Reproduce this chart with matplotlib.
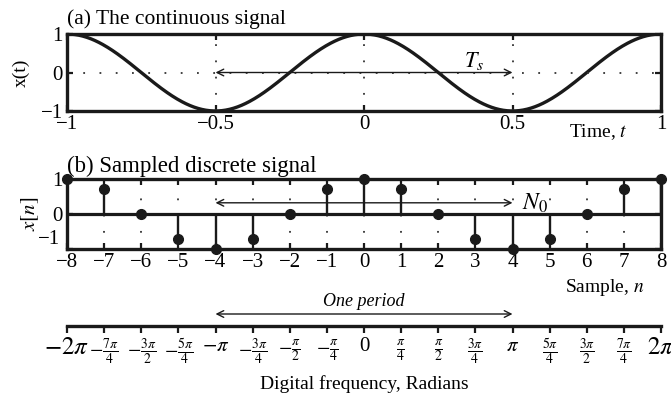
import numpy as np
import matplotlib
matplotlib.use("Agg")
import matplotlib.pyplot as plt

plt.rcParams['font.family'] = ['Liberation Serif', 'DejaVu Serif']
plt.rcParams['mathtext.fontset'] = 'stix'

# ---- data ----
signal_freq = 1.0          # cycles per unit time of the continuous cosine
signal_amp = 1.0
t_ticks = [-1, -0.5, 0, 0.5, 1]
t_ticklabels = ['−1', '−0.5', '0', '0.5', '1']
n_samples = list(range(-8, 9))
xn_values = [1, 0.707, 0, -0.707, -1, -0.707, 0, 0.707, 1,
             0.707, 0, -0.707, -1, -0.707, 0, 0.707, 1]
freq_ticks_quarters = list(range(-8, 9))
freq_ticklabels = [r'$-2\pi$', r'$-\frac{7\pi}{4}$', r'$-\frac{3\pi}{2}$', r'$-\frac{5\pi}{4}$',
                   r'$-\pi$', r'$-\frac{3\pi}{4}$', r'$-\frac{\pi}{2}$', r'$-\frac{\pi}{4}$',
                   '0', r'$\frac{\pi}{4}$', r'$\frac{\pi}{2}$', r'$\frac{3\pi}{4}$',
                   r'$\pi$', r'$\frac{5\pi}{4}$', r'$\frac{3\pi}{2}$', r'$\frac{7\pi}{4}$', r'$2\pi$']

W, H = 671, 394
fig = plt.figure(figsize=(W / 100, H / 100), dpi=100)

def px_axes(l, t, r, b):
    return fig.add_axes([l / W, 1 - b / H, (r - l) / W, (b - t) / H])

FS = 15
LW_FRAME = 2.4
dot_style = (0, (1, 8))
INK = '#1a1a1a'

# ---- (a) continuous signal ----
ax1 = px_axes(67, 34, 661, 111)
tt = np.linspace(-1, 1, 600)
ax1.plot(tt, signal_amp * np.cos(2 * np.pi * signal_freq * tt), color=INK, lw=2.4)
ax1.set_xlim(-1, 1)
ax1.set_ylim(-1, 1)
for xv in [-0.5, 0, 0.5]:
    ax1.axvline(xv, color='#333333', lw=1.3, ls=dot_style)
ax1.axhline(0, color='#333333', lw=1.3, ls=dot_style)
ax1.set_xticks(t_ticks)
ax1.set_xticklabels(t_ticklabels, fontsize=FS)
ax1.set_yticks([-1, 0, 1])
ax1.set_yticklabels(['−1', '0', '1'], fontsize=FS)
ax1.tick_params(direction='in', top=True, right=True, length=4, width=1.6, pad=3,
                color=INK)
for s in ax1.spines.values():
    s.set_linewidth(LW_FRAME)
    s.set_color(INK)
ax1.annotate('', xy=(-0.5, 0), xytext=(0.5, 0),
             arrowprops=dict(arrowstyle='<->', lw=1.0, color=INK,
                             shrinkA=0, shrinkB=0, mutation_scale=12))
ax1.text(0.37, 0.3, r'$T_s$', fontsize=FS + 1, ha='center', va='center')
ax1.set_ylabel('x(t)', fontsize=FS - 1, labelpad=8)
ax1.text(0, 1.06, '(a) The continuous signal', transform=ax1.transAxes,
         fontsize=FS + 0.5, ha='left', va='bottom')
fig.text(598 / W, 1 - 132 / H, 'Time, $t$', fontsize=FS - 1, ha='center', va='center')

# ---- (b) sampled discrete signal ----
ax2 = px_axes(67, 179, 661, 249)
ax2.set_xlim(-8, 8)
ax2.set_ylim(-1, 1)
for nv in n_samples:
    ax2.axvline(nv, color='#333333', lw=1.3, ls=dot_style, zorder=1)
ax2.axhline(0, color=INK, lw=2.3, zorder=2)
ax2.vlines(n_samples, 0, xn_values, color=INK, lw=1.7, zorder=3)
ax2.plot(n_samples, xn_values, 'o', color=INK, ms=7, zorder=4, clip_on=False)
ax2.set_xticks(n_samples)
ax2.set_xticklabels([str(v).replace('-', '−') for v in n_samples], fontsize=FS)
ax2.set_yticks([-1, 0, 1])
ax2.set_yticklabels(['', '0', '1'], fontsize=FS)
# the "-1" label sits a little above its tick in the reference
ax2.text(-0.011, -0.74, '−1', transform=ax2.get_yaxis_transform(),
         fontsize=FS, ha='right', va='center')
ax2.tick_params(direction='in', top=True, right=True, length=4, width=1.6, pad=3,
                color=INK)
for s in ax2.spines.values():
    s.set_linewidth(LW_FRAME)
    s.set_color(INK)
ax2.annotate('', xy=(-4, 0.32), xytext=(4, 0.32),
             arrowprops=dict(arrowstyle='<->', lw=1.0, color=INK,
                             shrinkA=0, shrinkB=0, mutation_scale=12))
ax2.text(4.25, 0.3, r'$N_0$', fontsize=FS + 2, ha='left', va='center')
ax2.set_ylabel(r'$x[n]$', fontsize=FS, labelpad=8)
ax2.text(0, 1.03, '(b) Sampled discrete signal', transform=ax2.transAxes,
         fontsize=FS + 1.5, ha='left', va='bottom')
fig.text(605 / W, 1 - 288 / H, 'Sample, $n$', fontsize=FS - 1, ha='center', va='center')

# ---- digital frequency axis ----
ax3 = px_axes(67, 286, 661, 326)
ax3.set_xlim(-2 * np.pi, 2 * np.pi)
ax3.set_ylim(0, 1)
for side in ['top', 'left', 'right']:
    ax3.spines[side].set_visible(False)
ax3.spines['bottom'].set_linewidth(LW_FRAME)
ax3.spines['bottom'].set_color(INK)
ax3.set_yticks([])
ax3.set_xticks([q * np.pi / 4 for q in freq_ticks_quarters])
ax3.set_xticklabels(freq_ticklabels)
for lab, q in zip(ax3.get_xticklabels(), freq_ticks_quarters):
    lab.set_fontsize(18 if abs(q) == 8 else (15 if abs(q) == 4 or q == 0 else 14))
ax3.tick_params(direction='out', length=5, width=1.6, pad=3, color=INK)
ax3.annotate('', xy=(-np.pi, 0.3), xytext=(np.pi, 0.3),
             arrowprops=dict(arrowstyle='<->', lw=1.0, color=INK,
                             shrinkA=0, shrinkB=0, mutation_scale=12))
ax3.text(0, 0.62, 'One period', fontsize=FS - 2, style='italic', ha='center', va='center')
ax3.set_xlabel('Digital frequency, Radians', fontsize=FS - 1, labelpad=6)

fig.savefig('out.png', dpi=100)
